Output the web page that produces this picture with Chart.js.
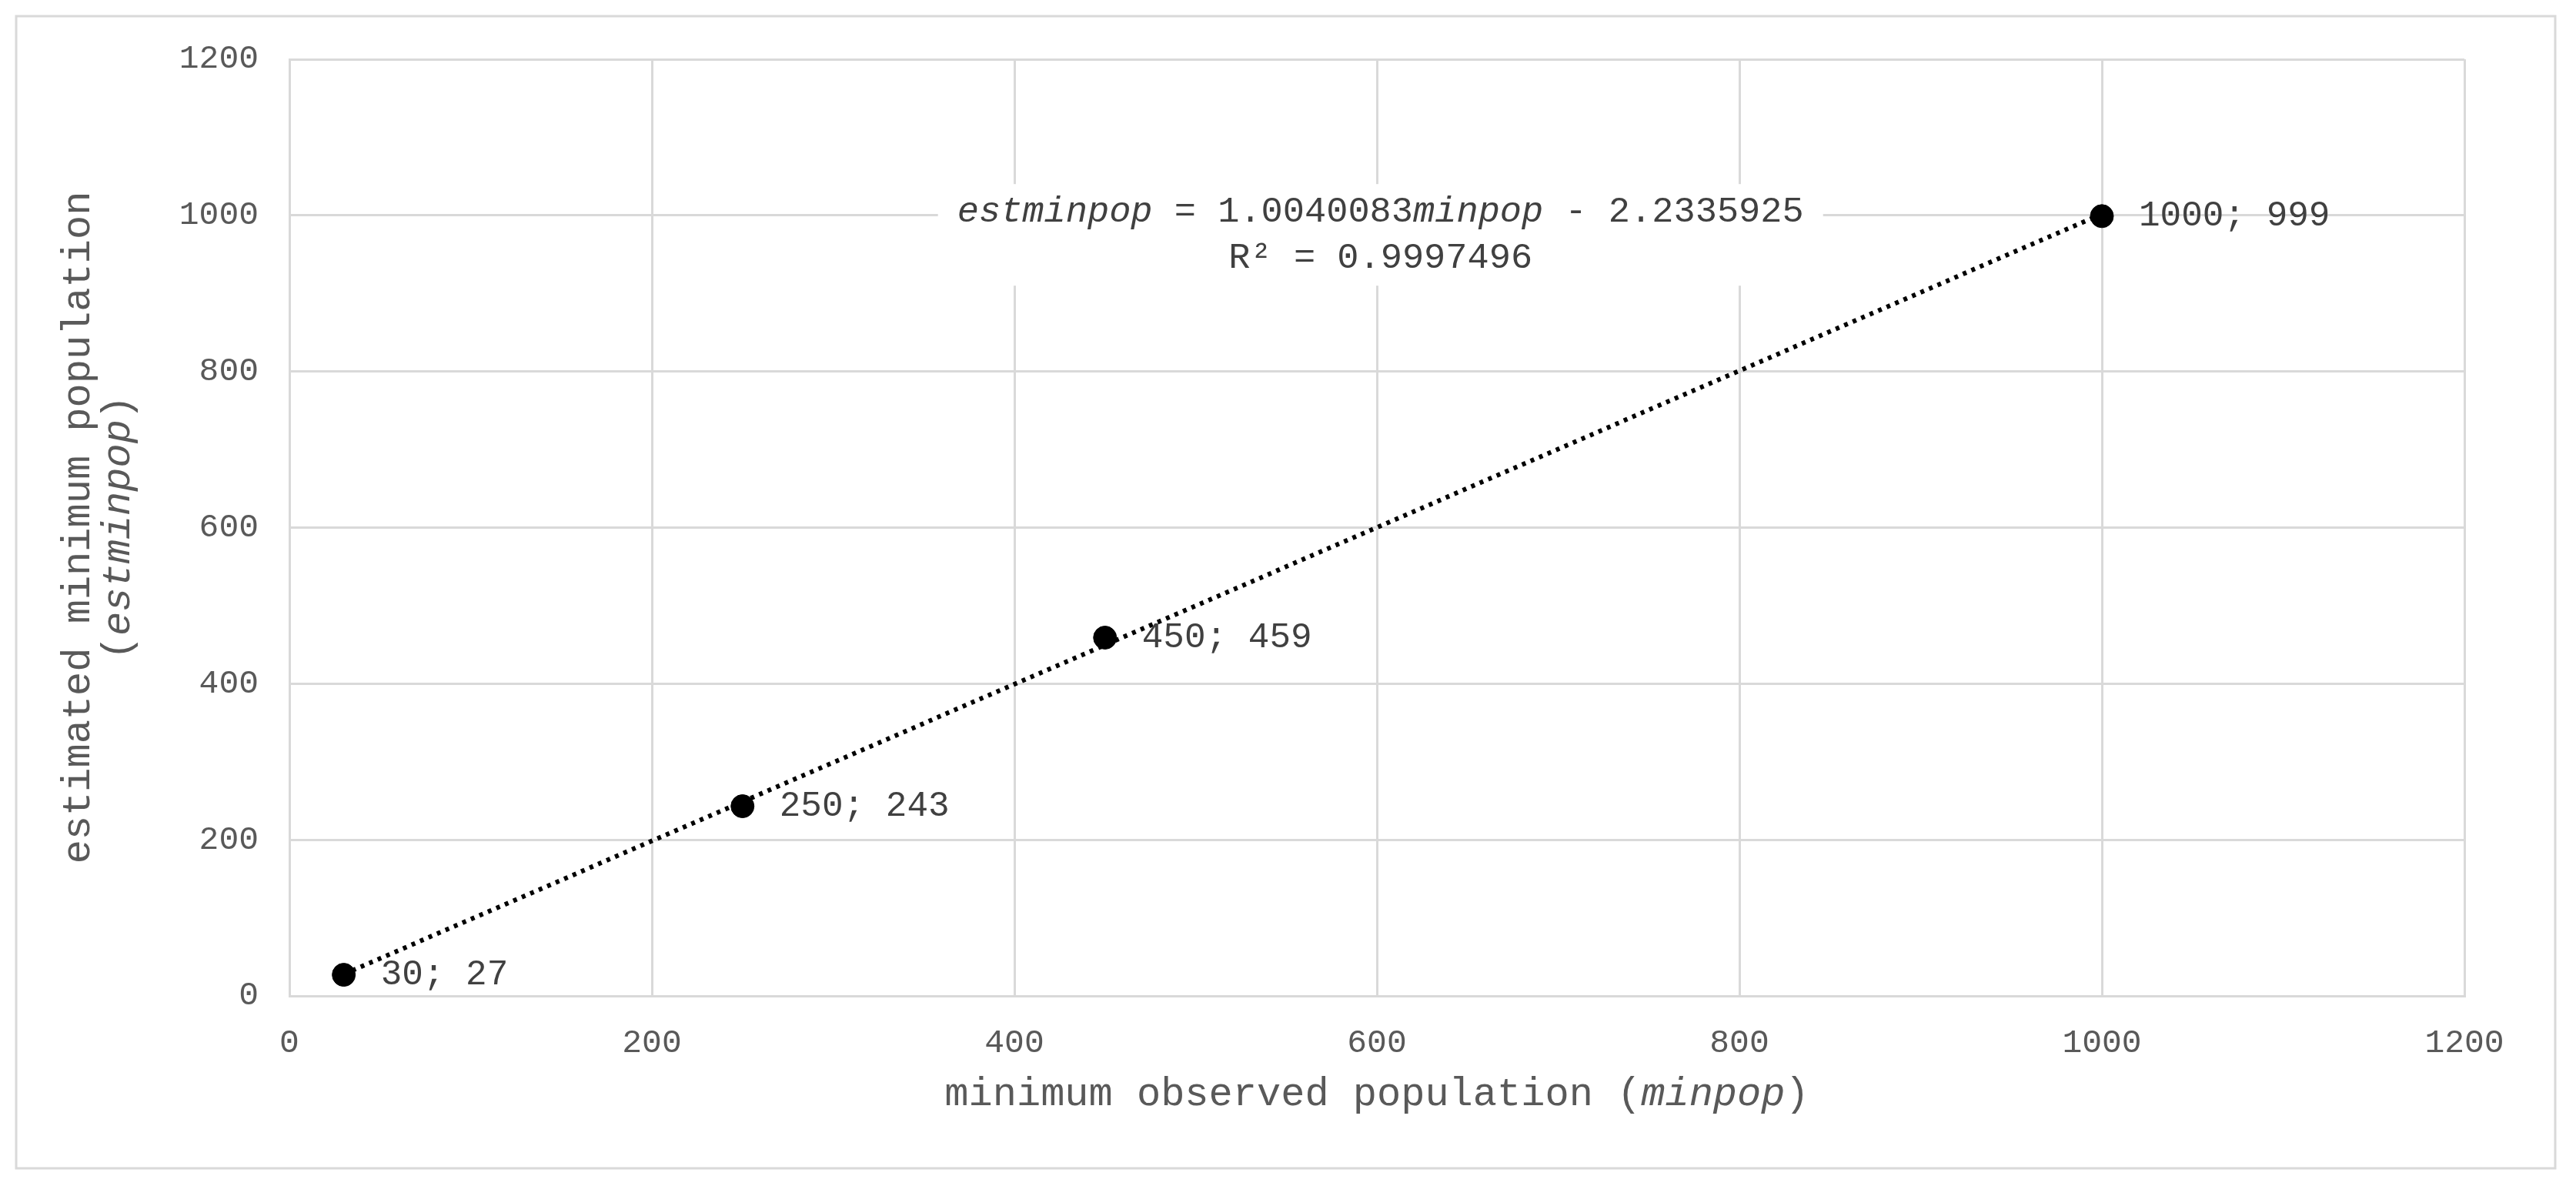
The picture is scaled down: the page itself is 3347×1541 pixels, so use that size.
<!DOCTYPE html>
<html>
<head>
<meta charset="utf-8">
<script src="https://cdn.jsdelivr.net/npm/chart.js@4"></script>
<style>
  html, body { margin: 0; padding: 0; background: #fff; }
  #wrap { width: 3347px; height: 1541px; }
</style>
</head>
<body>
<div id="wrap"><canvas id="chart" width="3347" height="1541"></canvas></div>
<script>
// valores
const minpop = [30, 250, 450, 1000];
const estminpop = [27, 243, 459, 999];
const xTicks = [0, 200, 400, 600, 800, 1000, 1200];
const yTicks = [0, 200, 400, 600, 800, 1000, 1200];
const slope = 1.0040083;
const intercept = -2.2335925;
const rsq = 0.9997496;

const FONT = '"Liberation Mono", "DejaVu Sans Mono", monospace';
const GRAY = '#595959';

const points = minpop.map((x, i) => ({ x: x, y: estminpop[i] }));
const trend = [minpop[0], minpop[minpop.length - 1]].map(x => ({ x: x, y: slope * x + intercept }));

// dibuja texto con partes en cursiva
function drawRuns(ctx, runs, x, y, size, align) {
    let total = 0;
    runs.forEach(r => {
        ctx.font = (r.it ? 'italic ' : '') + size + 'px ' + FONT;
        r.w = ctx.measureText(r.t).width;
        total += r.w;
    });
    let cx = align === 'center' ? x - total / 2 : x;
    runs.forEach(r => {
        ctx.font = (r.it ? 'italic ' : '') + size + 'px ' + FONT;
        ctx.fillText(r.t, cx, y);
        cx += r.w;
    });
    return total;
}

const extras = {
    id: 'extras',
    beforeDraw(chart) {
        const ctx = chart.ctx;
        ctx.save();
        ctx.fillStyle = '#fff';
        ctx.fillRect(0, 0, chart.width, chart.height);
        ctx.strokeStyle = '#d9d9d9';
        ctx.lineWidth = 3;
        ctx.strokeRect(21, 21, 3299, 1497);
        ctx.restore();
    },
    afterDraw(chart) {
        const ctx = chart.ctx;
        const xs = chart.scales.x, ys = chart.scales.y;
        ctx.save();
        ctx.textBaseline = 'middle';
        ctx.textAlign = 'left';
        // etiquetas de datos
        points.forEach(p => {
            const px = xs.getPixelForValue(p.x), py = ys.getPixelForValue(p.y);
            ctx.font = '46px ' + FONT;
            ctx.fillStyle = '#404040';
            ctx.fillText(p.x + '; ' + p.y, px + 48, py);
        });
        // ecuación de la línea de tendencia
        const ex = xs.getPixelForValue(602), ey = ys.getPixelForValue(975);
        ctx.fillStyle = '#fff';
        ctx.fillRect(ex - 575, ey - 66, 1150, 132);
        ctx.fillStyle = '#404040';
        drawRuns(ctx, [{ t: 'estminpop', it: true }, { t: ' = ' + slope.toFixed(7) }, { t: 'minpop', it: true }, { t: ' - ' + (-intercept).toFixed(7) }], ex, ey - 30, 47, 'center');
        drawRuns(ctx, [{ t: 'R² = ' + rsq.toFixed(7) }], ex, ey + 30, 47, 'center');
        // títulos de ejes
        ctx.fillStyle = GRAY;
        const cx = (xs.left + xs.right) / 2;
        drawRuns(ctx, [{ t: 'minimum observed population (' }, { t: 'minpop', it: true }, { t: ')' }], cx, 1422, 52, 'center');
        const cy = (ys.top + ys.bottom) / 2;
        ctx.save();
        ctx.translate(126, cy);
        ctx.rotate(-Math.PI / 2);
        drawRuns(ctx, [{ t: 'estimated minimum population' }], 0, -24, 52, 'center');
        drawRuns(ctx, [{ t: '(' }, { t: 'estminpop', it: true }, { t: ')' }], 0, 28, 52, 'center');
        ctx.restore();
        ctx.restore();
    }
};

new Chart(document.getElementById('chart'), {
    type: 'scatter',
    data: {
        datasets: [{
            label: 'trend',
            type: 'line',
            data: trend,
            borderColor: '#000',
            borderWidth: 6,
            borderDash: [5, 7],
            pointRadius: 0,
            fill: false
        }, {
            label: 'estminpop',
            data: points,
            backgroundColor: '#000',
            borderColor: '#000',
            pointRadius: 15
        }]
    },
    options: {
        responsive: false,
        animation: false,
        devicePixelRatio: 1,
        layout: { padding: { left: 0, top: 77, right: 145, bottom: 0 } },
        plugins: { legend: { display: false }, tooltip: { enabled: false } },
        scales: {
            x: {
                type: 'linear',
                min: xTicks[0], max: xTicks[xTicks.length - 1],
                afterBuildTicks: s => { s.ticks = xTicks.map(v => ({ value: v })); },
                afterFit: s => { s.height = 247; },
                grid: { color: '#d9d9d9', lineWidth: 3, drawTicks: false },
                border: { color: '#d9d9d9', width: 3 },
                ticks: { color: GRAY, font: { family: FONT, size: 43 }, padding: 36, callback: v => String(v) }
            },
            y: {
                type: 'linear',
                min: yTicks[0], max: yTicks[yTicks.length - 1],
                afterBuildTicks: s => { s.ticks = yTicks.map(v => ({ value: v })); },
                afterFit: s => { s.width = 376; },
                grid: { color: '#d9d9d9', lineWidth: 3, drawTicks: false },
                border: { color: '#d9d9d9', width: 3 },
                ticks: { color: GRAY, font: { family: FONT, size: 43 }, padding: 40, callback: v => String(v) }
            }
        }
    },
    plugins: [extras]
});
</script>
</body>
</html>
